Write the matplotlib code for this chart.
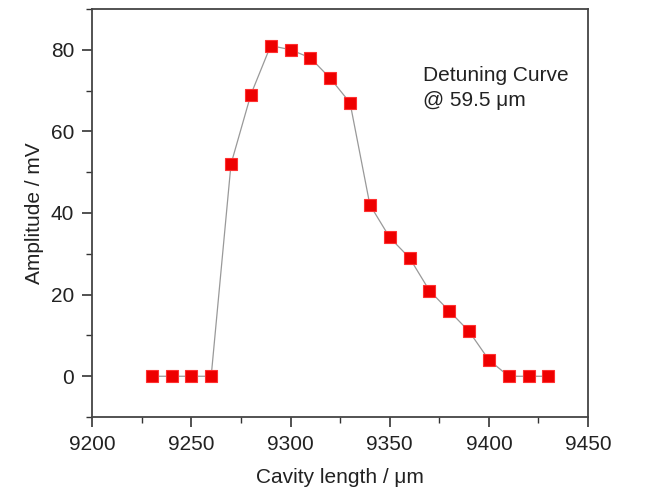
import numpy as np
import matplotlib
matplotlib.use("Agg")
import matplotlib.pyplot as plt
from matplotlib.ticker import MultipleLocator

plt.rcParams['font.family'] = ['Liberation Sans', 'DejaVu Sans']

# detuning curve data
cavity_length = [9230, 9240, 9250, 9260, 9270, 9280, 9290, 9300, 9310, 9320, 9330,
                 9340, 9350, 9360, 9370, 9380, 9390, 9400, 9410, 9420, 9430]
amplitude = [0, 0, 0, 0, 52, 69, 81, 80, 78, 73, 67,
             42, 34, 29, 21, 16, 11, 4, 0, 0, 0]

fig = plt.figure(figsize=(6.63, 4.93), dpi=100)
ax = fig.add_axes([0.139, 0.154, 0.748, 0.828])

ax.plot(cavity_length, amplitude, color='#999999', lw=0.9, zorder=1)
ax.plot(cavity_length, amplitude, 's', color='#ee0000', mec='#ff3030', mew=0.8,
        ms=8.5, ls='none', zorder=2)

ax.set_xlim(9200, 9450)
ax.set_ylim(-10, 90)
ax.xaxis.set_major_locator(MultipleLocator(50))
ax.xaxis.set_minor_locator(MultipleLocator(25))
ax.yaxis.set_major_locator(MultipleLocator(20))
ax.yaxis.set_minor_locator(MultipleLocator(10))
ax.tick_params(which='both', direction='out', top=False, right=False,
               color='#333333', labelsize=15, labelcolor='#222222')
ax.tick_params(which='major', length=7, width=1.2, pad=6)
ax.tick_params(which='minor', length=4, width=1.0)
for s in ax.spines.values():
    s.set_color('#444444')
    s.set_linewidth(1.3)

ax.set_xlabel('Cavity length / μm', fontsize=15, color='#222222', labelpad=10)
ax.set_ylabel('Amplitude / mV', fontsize=15, color='#222222', labelpad=5)

ax.text(9367, 70.5, 'Detuning Curve\n@ 59.5 μm', fontsize=15, color='#222222',
        va='center', ha='left', linespacing=1.4)

fig.savefig('out.png', dpi=100)
